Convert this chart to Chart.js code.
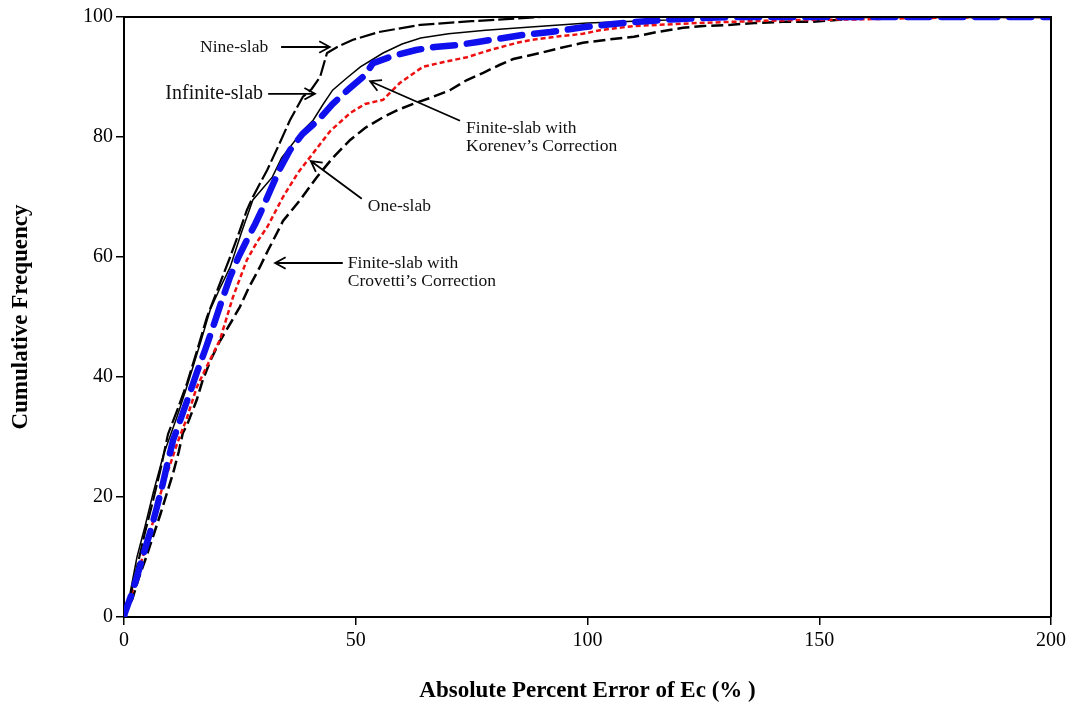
<!DOCTYPE html>
<html>
<head>
<meta charset="utf-8">
<script src="https://cdn.jsdelivr.net/npm/chart.js@4.4.1/dist/chart.umd.min.js"></script>
<style>
  html, body { margin: 0; padding: 0; background: #fff; }
  #wrap { width: 1078px; height: 710px; }
</style>
</head>
<body>
<div id="wrap"><canvas id="cdf"></canvas></div>
<script>
// values (x = absolute percent error, y = cumulative frequency)
const nineX = [0, 1.2, 2.8, 4.5, 6.3, 8.0, 9.5, 11.5, 13.6, 15.8, 17.9, 20.4, 22.9, 24.8, 26.5, 27.8, 29.5, 30.9, 33.6, 35.8, 38.6, 40.5, 42.3, 43.8, 46, 49.4, 55, 64, 75, 90, 200];
const nineY = [0, 3, 8.3, 14, 19.5, 25, 30.5, 34.5, 39, 44.5, 50, 55, 60, 64, 67.8, 70, 72.5, 74.5, 79, 82.8, 86.7, 88, 90, 94, 95, 96.2, 97.5, 98.7, 99.3, 100, 100];

const infX = [0, 1.2, 2.8, 4.5, 6.3, 8.5, 11.4, 13.2, 14.9, 16.8, 18.6, 20.7, 22.9, 25.3, 27.8, 30, 32, 34, 36.5, 38.5, 40.8, 43, 45, 48, 51, 55.9, 60, 64, 70, 78, 87, 100, 117, 124, 200];
const infY = [0, 3.5, 10, 15, 20.7, 27, 33.3, 37.5, 41.7, 46.5, 51.2, 54.8, 58.3, 64, 69.5, 71.5, 73.3, 76.5, 79, 81, 82.8, 85.5, 87.8, 89.8, 91.7, 94, 95.5, 96.5, 97.2, 97.8, 98.3, 99, 99.5, 100, 100];

const korX = [0, 0.2, 1.5, 2.8, 4.2, 5.6, 7, 8.4, 9.5, 10.6, 12, 13.6, 15.7, 17.5, 19.2, 21, 22.9, 24.7, 26.5, 28.3, 30, 31.5, 33.5, 35.8, 38.5, 41.9, 45, 48.5, 52, 53.7, 58, 63, 67, 71.8, 76, 81, 86, 92, 99, 105, 111, 118, 124, 131, 200];
const korY = [0, 0.7, 3.5, 6.7, 10.5, 14, 18, 22.3, 26, 29.5, 32.5, 36, 40.7, 44.5, 48.3, 52.5, 56.7, 60, 62.8, 65.5, 68.3, 71, 74.5, 77.8, 80.5, 82.8, 85.5, 88, 90.3, 92.3, 93.5, 94.5, 95, 95.3, 95.8, 96.4, 97, 97.5, 98.3, 98.8, 99.2, 99.6, 99.8, 100, 100];

const oneX = [0, 1.5, 2.8, 4.2, 5.6, 7, 8.4, 10, 11.5, 13.5, 15.7, 18, 20.7, 23.5, 26.5, 28.7, 30.9, 34.3, 37.5, 40.8, 44.5, 48.8, 52, 55.9, 59.5, 64.5, 69, 74, 79, 84.8, 88, 94, 99, 102.7, 110, 124, 135, 146, 158, 170, 189, 200];
const oneY = [0, 3.5, 6.7, 10.5, 14, 18, 22, 25.5, 29, 33, 38.3, 42, 46.2, 53.3, 59.5, 62.5, 65, 70, 74, 77.3, 81, 84, 85.5, 86.2, 89, 91.7, 92.5, 93.3, 94.5, 95.7, 96.2, 96.8, 97.2, 97.8, 98.5, 99, 99.3, 99.5, 99.6, 99.8, 100, 100];

const croX = [0, 1.8, 3.2, 4.8, 6.3, 7.8, 9.2, 10.6, 11.8, 12.7, 13.6, 15.7, 17, 18.8, 20.7, 23, 25, 27, 29.3, 31, 33, 34.3, 38, 41.6, 45, 48.8, 52, 55.9, 59, 63, 66, 70.3, 74, 77.5, 81, 84, 89.8, 94, 99, 104, 110, 115, 120.6, 125, 131, 136, 142, 148.6, 155, 159, 200];
const croY = [0, 3, 6.5, 10, 13.5, 17, 20.5, 24, 27.5, 30.7, 32, 36.2, 39.5, 43, 46, 49, 51.7, 55, 58.3, 61, 64, 66, 69.5, 73.3, 76.5, 79.5, 81.5, 83.3, 84.5, 85.7, 86.5, 87.8, 89.5, 90.7, 92, 93, 94, 94.8, 95.7, 96.2, 96.7, 97.5, 98.2, 98.5, 98.7, 99, 99.2, 99.2, 99.6, 100, 100];

const xTicks = [0, 50, 100, 150, 200];
const yTicks = [0, 20, 40, 60, 80, 100];

function pts(xs, ys) { return xs.map((x, i) => ({ x: x, y: ys[i] })); }

// callout labels: text lines, anchor in data units, arrow tail -> head
const notes = [
  { lines: ['Nine-slab'], at: [31.1, 95], align: 'right', size: 17.5, tail: [33.9, 95], head: [44.4, 95] },
  { lines: ['Infinite-slab'], at: [30.0, 87.2], align: 'right', size: 20, tail: [31.1, 87.2], head: [41.2, 87.2] },
  { lines: ['Finite-slab with', 'Korenev\u2019s Correction'], at: [73.8, 81.5], align: 'left', size: 17.5, tail: [72.5, 82.7], head: [53.1, 89.3] },
  { lines: ['One-slab'], at: [52.6, 68.5], align: 'left', size: 17.5, tail: [51.3, 69.7], head: [40.3, 76] },
  { lines: ['Finite-slab with', 'Crovetti\u2019s Correction'], at: [48.3, 59], align: 'left', size: 17.5, tail: [47.2, 59], head: [32.6, 59] }
];

const calloutPlugin = {
  id: 'callouts',
  afterDatasetsDraw(chart) {
    const { ctx, chartArea: a, scales: { x, y } } = chart;
    ctx.save();
    // box around the plot
    ctx.strokeStyle = '#000';
    ctx.lineWidth = 2;
    ctx.beginPath();
    ctx.moveTo(a.left, a.top); ctx.lineTo(a.right, a.top); ctx.lineTo(a.right, a.bottom);
    ctx.stroke();

    ctx.fillStyle = '#111';
    ctx.textBaseline = 'middle';
    notes.forEach(n => {
      ctx.font = n.size + 'px "Liberation Serif", "Times New Roman", serif';
      ctx.textAlign = n.align;
      const px = x.getPixelForValue(n.at[0]);
      const py = y.getPixelForValue(n.at[1]);
      n.lines.forEach((t, i) => ctx.fillText(t, px, py + i * 18));

      const x0 = x.getPixelForValue(n.tail[0]), y0 = y.getPixelForValue(n.tail[1]);
      const x1 = x.getPixelForValue(n.head[0]), y1 = y.getPixelForValue(n.head[1]);
      ctx.lineWidth = 1.8;
      ctx.beginPath();
      ctx.moveTo(x0, y0); ctx.lineTo(x1, y1);
      const ang = Math.atan2(y1 - y0, x1 - x0);
      const L = 12, w = 0.5;
      ctx.moveTo(x1 - L * Math.cos(ang - w), y1 - L * Math.sin(ang - w));
      ctx.lineTo(x1, y1);
      ctx.lineTo(x1 - L * Math.cos(ang + w), y1 - L * Math.sin(ang + w));
      ctx.stroke();
    });
    ctx.restore();
  }
};

const serif = '"Liberation Serif", "Times New Roman", serif';

new Chart(document.getElementById('cdf'), {
  type: 'scatter',
  data: {
    datasets: [
      { label: 'Finite-slab with Korenev\u2019s Correction', data: pts(korX, korY), borderColor: '#1010ee', borderWidth: 6.5, borderDash: [22, 12], borderCapStyle: 'round', order: 1 },
      { label: 'Infinite-slab', data: pts(infX, infY), borderColor: '#000', borderWidth: 1.5, order: 2 },
      { label: 'Nine-slab', data: pts(nineX, nineY), borderColor: '#000', borderWidth: 2.2, borderDash: [16, 4], order: 3 },
      { label: 'One-slab', data: pts(oneX, oneY), borderColor: '#ee1010', borderWidth: 2.5, borderDash: [5, 3], order: 4 },
      { label: 'Finite-slab with Crovetti\u2019s Correction', data: pts(croX, croY), borderColor: '#000', borderWidth: 2.5, borderDash: [12, 5], order: 5 }
    ]
  },
  options: {
    responsive: true,
    maintainAspectRatio: false,
    animation: false,
    showLine: true,
    elements: { point: { radius: 0, hoverRadius: 0 }, line: { tension: 0, fill: false } },
    layout: { padding: { top: 17, right: 27, left: 0, bottom: 0 } },
    plugins: { legend: { display: false }, tooltip: { enabled: false } },
    scales: {
      x: {
        type: 'linear', min: 0, max: 200,
        afterBuildTicks: s => { s.ticks = xTicks.map(v => ({ value: v })); },
        afterFit: s => { s.height = 93; },
        grid: { drawOnChartArea: false, drawTicks: true, tickLength: 8, color: '#000', lineWidth: 1.5 },
        border: { display: true, color: '#000', width: 2 },
        ticks: { color: '#000', font: { family: serif, size: 20 }, padding: 4, maxRotation: 0 },
        title: { display: true, text: 'Absolute Percent Error of Ec (% )', color: '#000', font: { family: serif, size: 23, weight: 'bold' }, padding: { top: 0, bottom: 5 } }
      },
      y: {
        type: 'linear', min: 0, max: 100,
        afterBuildTicks: s => { s.ticks = yTicks.map(v => ({ value: v })); },
        afterFit: s => { s.width = 124; },
        grid: { drawOnChartArea: false, drawTicks: true, tickLength: 8, color: '#000', lineWidth: 1.5 },
        border: { display: true, color: '#000', width: 2 },
        ticks: { color: '#000', font: { family: serif, size: 20 }, padding: 3 },
        title: { display: true, text: 'Cumulative Frequency', color: '#000', font: { family: serif, size: 23, weight: 'bold' }, padding: { top: 7, bottom: 0 } }
      }
    }
  },
  plugins: [calloutPlugin]
});
</script>
</body>
</html>
